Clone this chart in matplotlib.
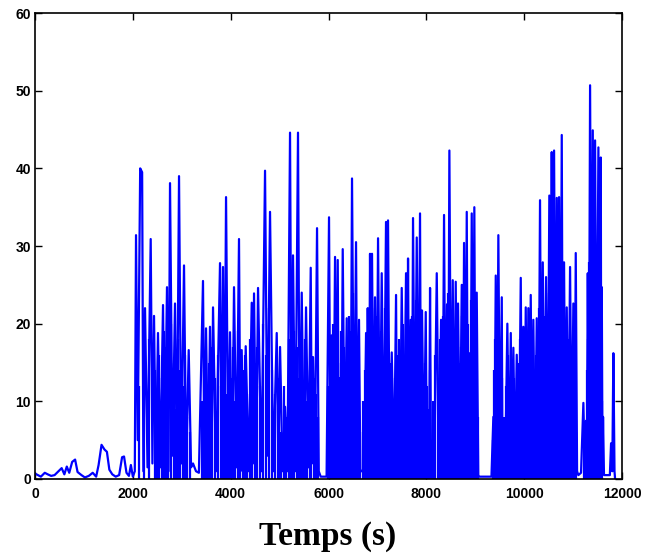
import numpy as np
import matplotlib
matplotlib.use('Agg')
import matplotlib.pyplot as plt

# signal (time in s): main peaks and valleys
temps = [0, 60, 120, 200, 260, 330, 400, 480, 545, 600, 650, 700, 760, 820, 870, 950, 1020, 1100,
         1180, 1250, 1300, 1360, 1420, 1470, 1520, 1580, 1650, 1720, 1780, 1820, 1870, 1920, 1960, 2000, 2040,
         2065, 2100, 2150, 2190, 2215, 2249, 2300, 2365, 2400, 2433, 2470, 2514, 2560, 2617, 2650, 2698,
         2730, 2760, 2810, 2862, 2900, 2944, 2990, 3046, 3090, 3142, 3190, 3230, 3291, 3350, 3434, 3465,
         3496, 3540, 3577, 3610, 3639, 3700, 3782, 3810, 3843, 3870, 3905, 3950, 3986, 4030, 4068, 4120,
         4170, 4200, 4225, 4270, 4307, 4370, 4430, 4455, 4477, 4520, 4559, 4630, 4702, 4750, 4804, 4870,
         4941, 4975, 5009, 5060, 5111, 5160, 5213, 5245, 5274, 5320, 5376, 5410, 5452, 5500, 5540, 5590,
         5636, 5660, 5683, 5720, 5765, 5800, 5840, 5960, 6010, 6040, 6065, 6100, 6133, 6160, 6188, 6210,
         6235, 6260, 6290, 6330, 6372, 6395, 6419, 6450, 6480, 6520, 6562, 6590, 6623, 6650, 6685, 6730,
         6767, 6785, 6801, 6825, 6848, 6870, 6889, 6920, 6950, 6980, 7012, 7050, 7087, 7130, 7175, 7195,
         7216, 7250, 7292, 7340, 7380, 7400, 7421, 7460, 7496, 7540, 7584, 7605, 7625, 7650, 7680, 7705,
         7727, 7765, 7803, 7835, 7870, 7890, 7911, 7950, 7987, 8010, 8034, 8055, 8075, 8095, 8116, 8160,
         8212, 8255, 8300, 8330, 8361, 8390, 8422, 8445, 8470, 8505, 8539, 8570, 8600, 8625, 8647, 8685,
         8723, 8745, 8770, 8800, 8825, 8850, 8872, 8900, 8927, 8955, 8980, 9005, 9029, 9060, 9080, 9330,
         9369, 9390, 9418, 9445, 9471, 9505, 9541, 9555, 9567, 9610, 9655, 9690, 9725, 9750, 9778, 9810,
         9847, 9890, 9929, 9955, 9982, 10005, 10031, 10060, 10084, 10110, 10133, 10160, 10186, 10220,
         10256, 10290, 10323, 10350, 10379, 10410, 10446, 10480, 10513, 10540, 10562, 10585, 10610, 10640,
         10665, 10690, 10712, 10740, 10767, 10790, 10814, 10840, 10869, 10900, 10937, 10970, 11004, 11030,
         11053, 11080, 11106, 11161, 11209, 11240, 11264, 11280, 11299, 11320, 11346, 11375, 11401, 11425,
         11448, 11480, 11516, 11540, 11565, 11575, 11585, 11600, 11611, 11630, 11750, 11775, 11800, 11822,
         11845, 11857]
valeurs = [0.7, 0.5, 0.3, 0.8, 0.6, 0.4, 0.5, 1.0, 1.4, 0.6, 1.6, 0.8, 2.2, 2.5, 0.9, 0.5, 0.2, 0.4,
           0.8, 0.3, 1.8, 4.4, 3.8, 3.5, 1.2, 0.6, 0.3, 0.5, 2.8, 2.9, 0.8, 0.4, 1.8, 0.3, 1.0,
           31.4, 5, 40.0, 39.5, 1, 22, 1.5, 30.9, 2, 21, 1, 18.8, 1.5, 22.4, 2, 24.7,
           1, 38.1, 3, 22.6, 1, 39, 2, 27.5, 1, 16.6, 1.5, 2, 1, 0.8, 25.5, 1,
           19.4, 1, 19.6, 2, 22.1, 1, 27.8, 2, 27.3, 1, 36.3, 2, 18.9, 1, 24.7, 1.5,
           30.9, 1, 16.6, 1, 17.1, 1, 22.7, 2, 23.9, 1, 24.6, 1, 39.7, 3, 34.4, 1,
           18.8, 2, 17, 1, 9.3, 1, 44.6, 2, 28.8, 1, 44.6, 2, 24, 1, 22.1, 1.5,
           27.2, 2, 15.7, 1, 32.3, 1, 0.3, 0.3, 33.7, 1, 18.5, 1.5, 28.6, 2, 28.2, 1,
           13, 1, 29.6, 1.5, 20.7, 1, 15.7, 1, 38.7, 2, 30.5, 1.5, 20.5, 1, 1, 1.5,
           18.8, 3, 22, 1, 29, 3, 29, 1, 23.4, 1, 31, 2, 26.5, 1, 33.1, 5,
           33.3, 1, 16.3, 1, 23.7, 2, 10, 1, 24.6, 1.5, 26.5, 3, 28.4, 1, 20.5, 1,
           33.6, 2, 31.1, 1, 34.2, 2, 21.7, 1, 21.5, 1, 8, 1, 24.6, 1, 0.5, 1,
           26.5, 1, 20.5, 1.5, 34, 2, 22.5, 1, 42.3, 2, 25.6, 1, 25.4, 1, 22.6, 1,
           25, 1, 30.4, 2, 34.4, 1, 16.2, 1, 34.2, 3, 35, 1, 24, 0.5, 0.3, 0.3,
           8, 1, 26.2, 2, 31.4, 1, 23.4, 1, 3, 0.5, 20, 1, 18.8, 1, 16.9, 1,
           16, 1, 25.9, 1, 19.6, 1, 22.1, 1, 22, 1, 23.7, 1, 20.5, 1,
           20.7, 1, 35.9, 2, 27.9, 1, 26, 2, 36.5, 3, 42.1, 5, 42.3, 2,
           36.2, 2, 36.3, 2, 44.3, 1, 27.9, 1, 22.1, 1, 27.3, 1, 22.6, 1,
           29.1, 1, 0.5, 0.8, 9.8, 1, 7.5, 1, 26.5, 3, 50.7, 5, 44.9, 3,
           43.6, 4, 42.7, 3, 41.4, 2, 24.7, 1, 8, 0.5, 0.5, 4.6, 1, 16.2,
           1, 0]

# smaller spikes filling the dense part of the record
t_pics = [2120, 2230, 2330, 2450, 2490, 2540, 2590, 2630, 2675, 2720, 2790, 2840, 2880, 2920, 2970,
          3020, 3070, 3110, 3170,
          3410, 3450, 3480, 3520, 3560, 3595, 3625, 3670, 3740, 3795, 3825, 3855, 3890, 3930, 3970,
          4010, 4050, 4095, 4145, 4185, 4250, 4290, 4340, 4400, 4445, 4500, 4540, 4600, 4670, 4730,
          4780, 4840, 4910, 4960, 4990, 5035, 5090, 5140, 5190, 5230, 5260, 5300, 5350, 5395, 5430,
          5480, 5520, 5565, 5615, 5650, 5700, 5740, 5780,
          5990, 6025, 6050, 6085, 6115, 6145, 6175, 6200, 6225, 6250, 6275, 6310, 6350, 6385, 6410,
          6435, 6465, 6500, 6540, 6575, 6610, 6640, 6710, 6750, 6775, 6815, 6838, 6860, 6880, 6905,
          6935, 6965, 6995, 7030, 7070, 7110, 7155, 7185, 7205, 7235, 7270, 7315, 7360, 7390, 7410,
          7440, 7480, 7520, 7565, 7595, 7615, 7640, 7665, 7695, 7715, 7745, 7785, 7820, 7850, 7880,
          7900, 7930, 7970, 8000, 8022, 8045, 8065, 8085, 8140, 8185, 8235, 8280, 8315, 8345, 8375,
          8405, 8435, 8458, 8490, 8520, 8555, 8585, 8612, 8635, 8665, 8705, 8735, 8758, 8785, 8812,
          8838, 8860, 8885, 8915, 8940, 8968, 8992, 9015, 9045,
          9355, 9380, 9405, 9430, 9458, 9490, 9520, 9548, 9590, 9635, 9672, 9708, 9738, 9765, 9795,
          9830, 9870, 9910, 9942, 9968, 9995, 10018, 10045, 10072, 10097, 10122, 10147, 10172, 10203,
          10240, 10273, 10305, 10337, 10365, 10395, 10428, 10463, 10497, 10527, 10552, 10573, 10597,
          10625, 10652, 10678, 10700, 10727, 10753, 10778, 10802, 10827, 10855, 10885, 10920, 10953,
          10987, 11017, 11042, 11068, 11225, 11252, 11290, 11310, 11333, 11360, 11388, 11413, 11437,
          11465, 11498, 11528, 11553, 11570, 11593]
v_pics = [12, 15, 18, 14, 10, 16, 13, 19, 17, 11, 20, 15, 9, 18, 14,
          12, 16, 8, 6,
          10, 14, 9, 12, 15, 11, 17, 13, 16, 12, 18, 14, 20, 11, 15,
          13, 17, 10, 19, 12, 14, 16, 11, 18, 13, 15, 17, 12, 20, 16,
          22, 14, 11, 13, 9, 6, 12, 8, 18, 21, 15, 19, 17, 13, 16,
          12, 18, 10, 14, 9, 13, 11, 8,
          12, 16, 10, 20, 14, 18, 11, 15, 9, 19, 13, 17, 12, 8, 21,
          15, 19, 24, 13, 16, 12, 6, 10, 14, 12, 17, 20, 15, 22, 13,
          18, 11, 21, 16, 19, 14, 22, 25, 17, 12, 15, 9, 13, 7, 16,
          18, 12, 20, 15, 22, 14, 17, 12, 19, 21, 15, 23, 16, 20, 13,
          17, 11, 15, 6, 12, 9, 14, 5, 10, 16, 13, 18, 12, 21, 15,
          19, 24, 17, 20, 14, 18, 16, 13, 19, 15, 17, 21, 14, 22, 18,
          12, 20, 15, 23, 17, 19, 14, 12, 8,
          5, 14, 18, 12, 20, 15, 10, 13, 8, 12, 16, 11, 14, 9, 13,
          10, 15, 18, 12, 14, 11, 16, 13, 17, 12, 15, 18, 12, 14,
          16, 19, 22, 17, 20, 16, 21, 18, 24, 20, 26, 22, 25,
          19, 23, 21, 24, 18, 22, 20, 15, 17, 13, 18, 14, 16,
          12, 15, 18, 6, 5, 3, 14, 18, 28, 30, 32, 27, 30,
          26, 29, 24, 20, 12, 10]

xticks = [0, 2000, 4000, 6000, 8000, 10000, 12000]
yticks = [0, 10, 20, 30, 40, 50, 60]

fig = plt.figure(figsize=(6.48, 5.56), dpi=100)
ax = fig.add_axes([0.054, 0.1385, 0.906, 0.838])
ax.plot(temps, valeurs, color='#0000ff', linewidth=1.6)
ax.vlines(t_pics, 0, v_pics, color='#0000ff', linewidth=1.6)

ax.set_xlim(0, 12000)
ax.set_ylim(0, 60)
ax.set_xticks(xticks)
ax.set_yticks(yticks)
ax.tick_params(direction='in', length=5, width=1, top=True, right=True,
               labelsize=10, pad=3)
ax.tick_params(axis='x', pad=6)
for lab in ax.get_xticklabels() + ax.get_yticklabels():
    lab.set_family('Liberation Sans')
    lab.set_fontweight('bold')
for sp in ax.spines.values():
    sp.set_linewidth(1.2)

fig.text(0.506, 0.02, 'Temps (s)', ha='center', va='baseline',
         family='Liberation Serif', fontweight='bold', fontsize=24)

fig.savefig('out.png', dpi=100)
